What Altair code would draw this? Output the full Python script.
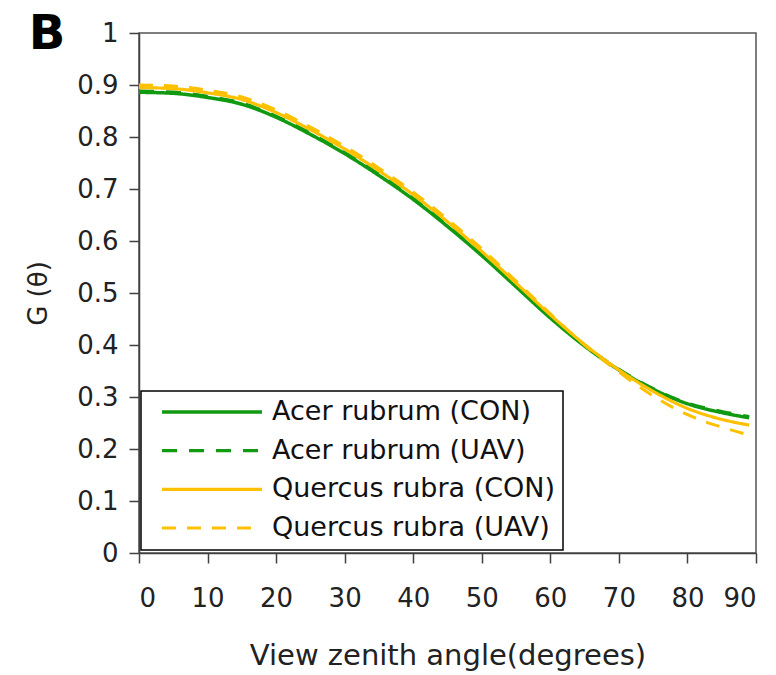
import altair as alt
import pandas as pd

angles = [0, 5, 10, 15, 20, 25, 30, 35, 40, 45, 50, 55, 60, 65, 70, 75, 80, 85, 89]
acer_con = [0.886, 0.884, 0.876, 0.863, 0.838, 0.805, 0.768, 0.726, 0.680, 0.628,
            0.572, 0.512, 0.452, 0.398, 0.352, 0.315, 0.287, 0.270, 0.260]
acer_uav = [0.888, 0.886, 0.878, 0.865, 0.840, 0.807, 0.770, 0.728, 0.682, 0.630,
            0.574, 0.514, 0.454, 0.399, 0.353, 0.316, 0.288, 0.272, 0.262]
quercus_con = [0.895, 0.893, 0.885, 0.872, 0.847, 0.814, 0.777, 0.735, 0.689, 0.637,
               0.580, 0.519, 0.458, 0.401, 0.352, 0.311, 0.278, 0.257, 0.246]
quercus_uav = [0.900, 0.898, 0.890, 0.877, 0.852, 0.819, 0.782, 0.740, 0.694, 0.642,
               0.585, 0.523, 0.460, 0.400, 0.348, 0.302, 0.266, 0.242, 0.227]

series_names = ["Acer rubrum (CON)", "Acer rubrum (UAV)",
                "Quercus rubra (CON)", "Quercus rubra (UAV)"]
series_values = [acer_con, acer_uav, quercus_con, quercus_uav]
series_colors = ["#119a11", "#119a11", "#FFC000", "#FFC000"]
series_dash = [[1, 0], [15, 12], [1, 0], [14, 11]]
series_width = [3.5, 3, 4.5, 4]

rows = []
for name, vals in zip(series_names, series_values):
    for a, v in zip(angles, vals):
        rows.append({"angle": a, "G": v, "series": name})
df = pd.DataFrame(rows)

FONT = "DejaVu Sans"

lines = alt.Chart(df).mark_line(interpolate="monotone").encode(
    x=alt.X("angle:Q",
            scale=alt.Scale(domain=[0, 90], nice=False, zero=False),
            axis=alt.Axis(values=list(range(0, 91, 10)), title="View zenith angle(degrees)",
                          grid=False, tickSize=10, labelPadding=22,
                          labelFontSize=26, titleFontSize=29, titleFontWeight="normal",
                          titleY=102, titleBaseline="middle")),
    y=alt.Y("G:Q",
            scale=alt.Scale(domain=[0, 1], nice=False),
            axis=alt.Axis(values=[i / 10 for i in range(11)], format=".1~f", title="G (θ)",
                          grid=False, tickSize=10, labelPadding=11,
                          labelFontSize=26, titleFontSize=26, titleFontWeight="normal",
                          titleX=-101, titleY=260, titleBaseline="middle",
                          titleAlign="center")),
    color=alt.Color("series:N",
                    scale=alt.Scale(domain=series_names, range=series_colors),
                    legend=alt.Legend(title=None, orient="none", legendX=2, legendY=358,
                                      symbolType="stroke", symbolSize=10000,
                                      clipHeight=28, rowPadding=10.7, padding=7,
                                      symbolOffset=12, labelOffset=8,
                                      labelFontSize=27, labelLimit=600,
                                      strokeColor="black", fillColor="white")),
    strokeDash=alt.StrokeDash("series:N",
                              scale=alt.Scale(domain=series_names, range=series_dash),
                              legend=alt.Legend(title=None)),
    strokeWidth=alt.StrokeWidth("series:N",
                                scale=alt.Scale(domain=series_names, range=series_width),
                                legend=alt.Legend(title=None)),
)

panel_label = alt.Chart(pd.DataFrame({"t": ["B"]})).mark_text(
    font=FONT, fontSize=48, fontWeight="bold", color="black",
    align="center", baseline="middle"
).encode(text="t:N", x=alt.value(-92), y=alt.value(2))

chart = alt.layer(lines, panel_label).properties(
    width=617, height=520,
    autosize=alt.AutoSizeParams(type="none"),
    padding={"left": 139, "top": 33, "right": 20, "bottom": 122},
).configure(font=FONT).configure_view(
    stroke="#555555", strokeWidth=1.5
).configure_axis(
    domainColor="#404040", domainWidth=1.5, tickColor="#404040", tickWidth=1.5,
    labelColor="#222222", titleColor="#222222", labelFont=FONT, titleFont=FONT
).configure_legend(
    labelColor="#111111", labelFont=FONT, strokeWidth=1.5
)

chart.save("out.html", embed_options={"renderer": "svg", "actions": False})
